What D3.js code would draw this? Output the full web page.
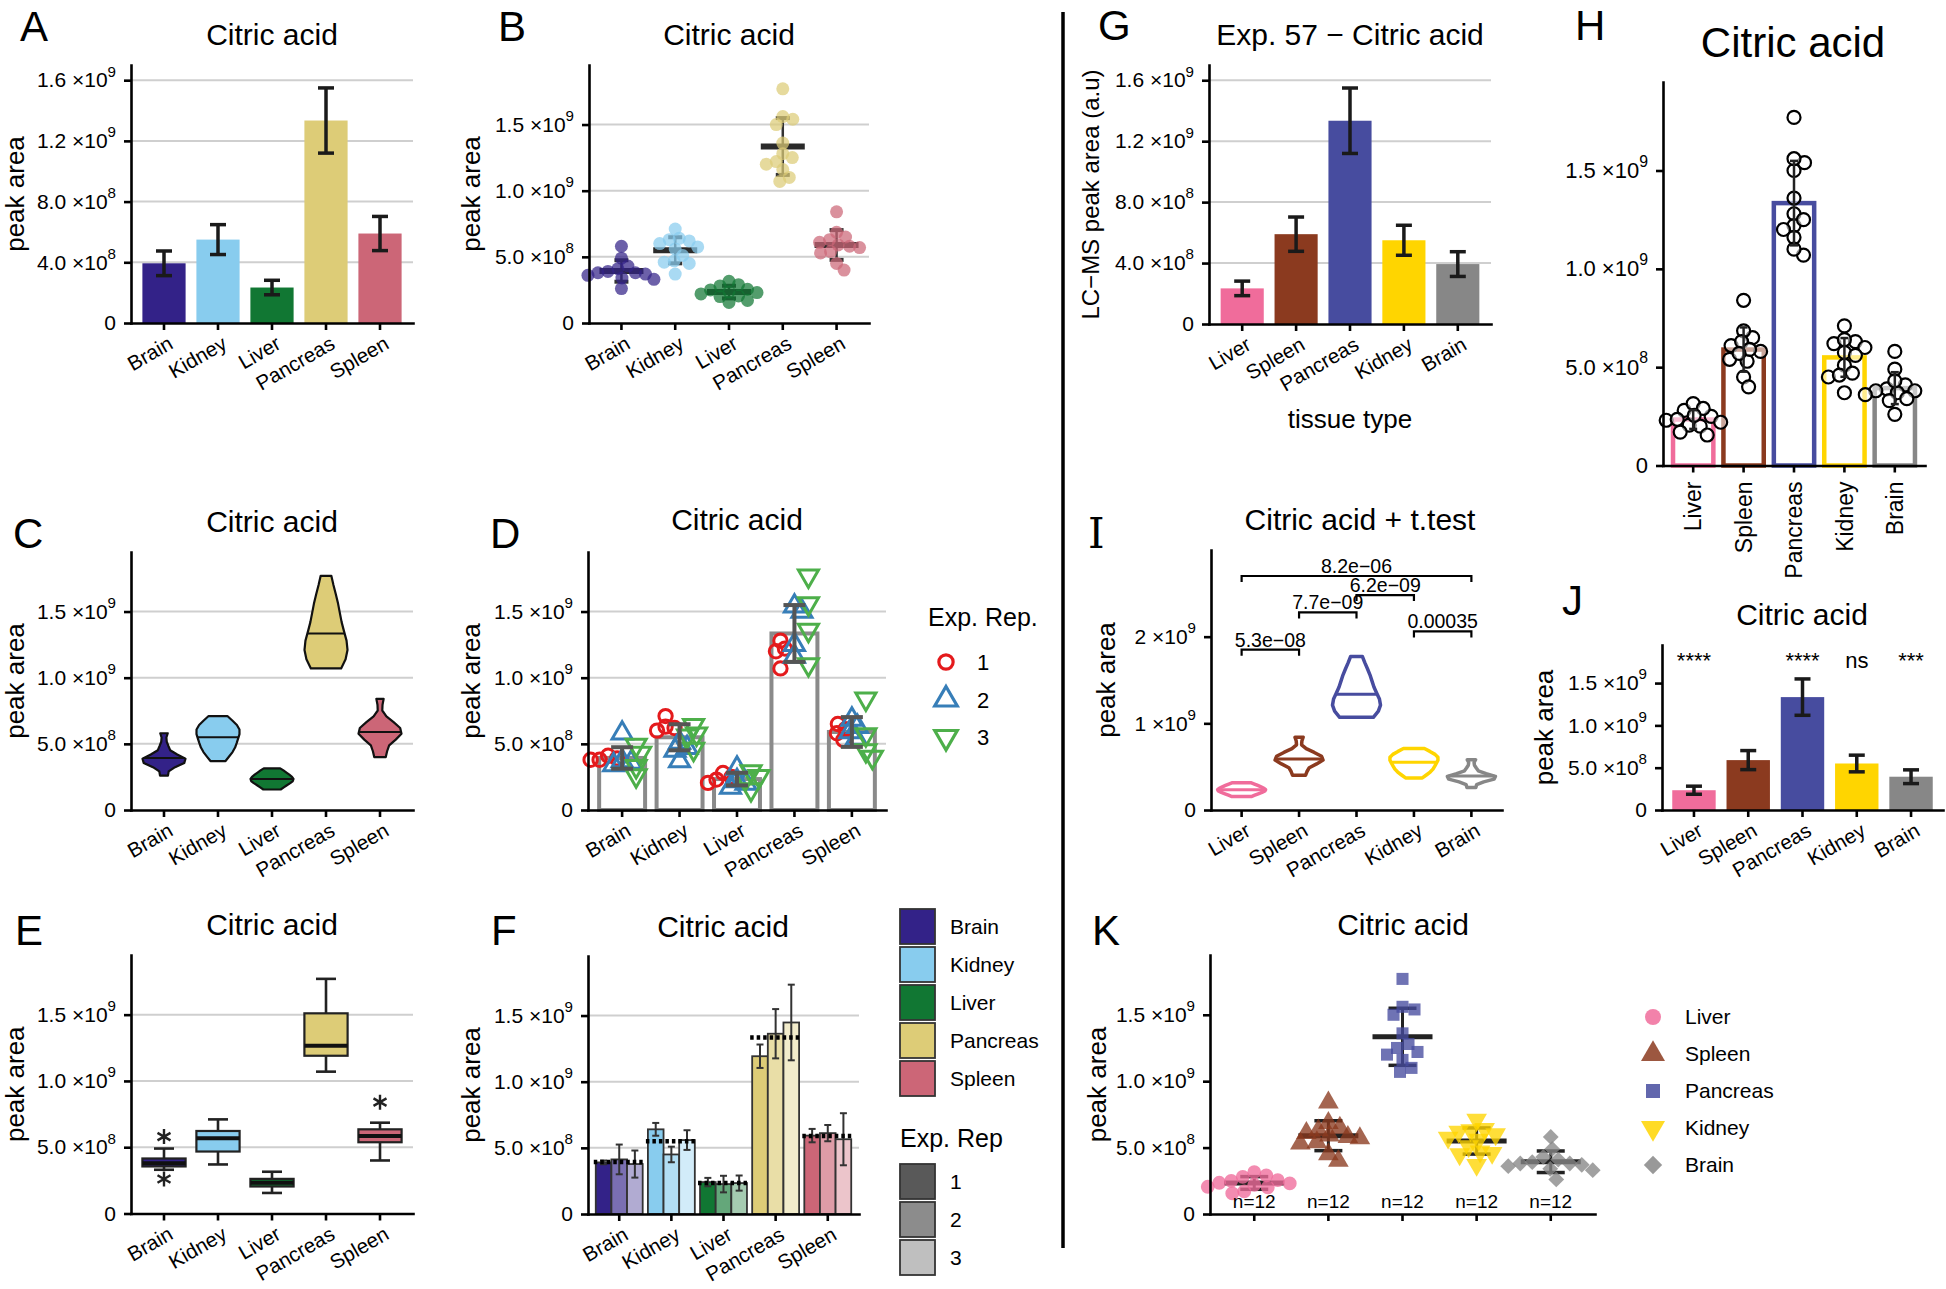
<!DOCTYPE html>
<html><head><meta charset="utf-8">
<script src="https://cdn.jsdelivr.net/npm/d3@7"></script>
<style>
body{margin:0;background:#fff;}
svg{display:block;font-family:"Liberation Sans",Arial,Helvetica,sans-serif;}
</style></head><body>
<svg id="fig" width="1946" height="1289"></svg>
<script>
// ---------------- DATA ----------------
const tissues = ["Brain","Kidney","Liver","Pancreas","Spleen"];
const tissuesAlt = ["Liver","Spleen","Pancreas","Kidney","Brain"];
const replicate = [1,1,1,1, 2,2,2,2, 3,3,3,3];
const brain    = [4.1e8,3.9e8,3.8e8,3.8e8, 5.8e8,3.7e8,3.6e8,3.4e8, 4.9e8,4.3e8,3.3e8,2.6e8];
const kidney   = [7.1e8,6.3e8,6.2e8,6.0e8, 5.1e8,4.7e8,4.5e8,3.7e8, 6.4e8,5.75e8,5.6e8,4.6e8];
const liver    = [2.8e8,2.5e8,2.3e8,2.05e8, 3.15e8,2.2e8,2.0e8,1.7e8, 2.9e8,2.55e8,2.35e8,1.55e8];
const pancreas = [1.28e9,1.22e9,1.20e9,1.07e9, 1.54e9,1.50e9,1.25e9,1.16e9, 1.77e9,1.56e9,1.36e9,1.10e9];
const spleen   = [6.5e8,6.1e8,5.8e8,5.3e8, 6.85e8,6.3e8,5.9e8,5.4e8, 8.4e8,5.7e8,4.5e8,4.0e8];

const mutedColors = ["#332288","#88CCEE","#117733","#DDCC77","#CC6677"];
const altColors   = ["#F06C9B","#8B3A1F","#474C9F","#FFD500","#878787"];
const repColors   = ["#E41A1C","#377EB8","#4DAF4A"];
const repGrays    = ["#595959","#8c8c8c","#bfbfbf"];
const repLabels   = ["1","2","3"];

const ticksA = [0,4e8,8e8,1.2e9,1.6e9];
const ticksABase = ["0","4.0","8.0","1.2","1.6"];
const ticksAExp  = ["","8","8","9","9"];
const ticksB = [0,5e8,1e9,1.5e9];
const ticksBBase = ["0","5.0","1.0","1.5"];
const ticksBExp  = ["","8","9","9"];
const ticksI = [0,1e9,2e9];
const ticksIBase = ["0","1","2"];
const ticksIExp  = ["","9","9"];

const pPairs = [["Liver","Spleen"],["Spleen","Pancreas"],["Pancreas","Kidney"],["Kidney","Brain"],["Liver","Brain"]];
const pValues = ["5.3e\u221208","7.7e\u221209","6.2e\u221209","0.00035","8.2e\u221206"];
const pBracketY = [1.85e9,2.28e9,2.48e9,2.06e9,2.70e9];
const jSigLabels = ["****","","****","ns","***"];

// ---------------- HELPERS ----------------
const vals = {Brain:brain, Kidney:kidney, Liver:liver, Pancreas:pancreas, Spleen:spleen};
const colMuted = Object.fromEntries(tissues.map((t,i)=>[t,mutedColors[i]]));
const colAlt = Object.fromEntries(tissuesAlt.map((t,i)=>[t,altColors[i]]));
const mean = t => d3.mean(vals[t]);
const sd = t => d3.deviation(vals[t]);
const repVals = (t,r) => vals[t].filter((_,i)=>replicate[i]===r);

const svg = d3.select("#fig");
svg.append("rect").attr("width",1946).attr("height",1289).attr("fill","#fff");

function makePanel(c){
  const g = svg.append("g");
  const x = d3.scaleBand().domain(c.cats).range([c.left,c.right]).paddingInner(0).paddingOuter(c.pad);
  const y = d3.scaleLinear().domain([0,c.yMax]).range([c.bottom,c.top]);
  const cx = k => x(k)+x.bandwidth()/2;
  if(c.grid){
    g.append("g").selectAll("line").data(c.ticks.filter(t=>t>0)).join("line")
      .attr("x1",x.range()[0]).attr("x2",x.range()[1])
      .attr("y1",d=>y(d)).attr("y2",d=>y(d))
      .attr("stroke","#cfcfcf").attr("stroke-width",2);
  }
  const marks = g.append("g");
  const ax = g.append("g");
  const yAx = ax.append("g").attr("transform",`translate(${x.range()[0]},0)`)
    .call(d3.axisLeft(y).tickValues(c.ticks).tickSize(7).tickSizeOuter(0).tickPadding(8).tickFormat(""));
  yAx.attr("font-family",null).attr("font-size",c.tickFont||21);
  yAx.selectAll(".tick text").attr("fill","#000").each(function(d,i){
    const t = d3.select(this); t.text(null);
    t.append("tspan").text(c.tickBase[i] + (c.tickExp[i] ? " \u00D710" : ""));
    if(c.tickExp[i]) t.append("tspan").attr("dy","-0.72em").attr("font-size","0.72em").text(c.tickExp[i]);
  });
  ax.append("g").attr("transform",`translate(0,${y(0)})`)
    .call(d3.axisBottom(x).tickSize(7).tickSizeOuter(0).tickFormat(""));
  ax.selectAll("path,line").attr("stroke","#000").attr("stroke-width",2.6);
  ax.selectAll("path.domain").attr("stroke-linecap","square");
  if(c.xlab==="rot30"){
    ax.append("g").selectAll("text").data(c.cats).join("text")
      .attr("transform",d=>`translate(${cx(d)+3},${y(0)+12}) rotate(-30)`)
      .attr("text-anchor","end").attr("dy","0.71em").attr("font-size",c.xFont||20.5).text(d=>d);
  } else if(c.xlab==="rot90"){
    ax.append("g").selectAll("text").data(c.cats).join("text")
      .attr("transform",d=>`translate(${cx(d)},${y(0)+16}) rotate(-90)`)
      .attr("text-anchor","end").attr("dy","0.36em").attr("font-size",c.xFont||23).text(d=>d);
  }
  if(c.ylabel){
    g.append("text").attr("transform",`translate(${c.ylabelX},${(c.top+c.bottom)/2}) rotate(-90)`)
      .attr("text-anchor","middle").attr("dy","0.35em").attr("font-size",c.ylabelSize||26).text(c.ylabel);
  }
  g.append("text").attr("x",c.titleX).attr("y",c.titleY).attr("text-anchor","middle")
    .attr("font-size",c.titleSize||30).text(c.title);
  g.append("text").attr("x",c.letterX).attr("y",c.letterY).attr("font-size",42)
    .attr("font-family",c.letterFont||null).text(c.letter);
  return {g:marks, x, y, cx, step:x.bandwidth()};
}

function errBar(g,x,y0,y1,capW,color,w){
  g.append("line").attr("x1",x).attr("x2",x).attr("y1",y0).attr("y2",y1).attr("stroke",color).attr("stroke-width",w);
  [y0,y1].forEach(yy=>g.append("line").attr("x1",x-capW/2).attr("x2",x+capW/2).attr("y1",yy).attr("y2",yy)
    .attr("stroke",color).attr("stroke-width",w));
}

function swarm(v,y,minDist){
  const idx = d3.range(v.length).sort((a,b)=>d3.descending(v[a],v[b]));
  const placed=[], off=new Array(v.length);
  for(const i of idx){
    const py=y(v[i]); let k=0, dx=null;
    while(dx===null){
      const cands = k===0?[0]:[k*0.5,-k*0.5];
      for(const c of cands){
        if(placed.every(p=>(p.x-c)**2+(p.y-py)**2>=minDist*minDist)){dx=c;break;}
      }
      k++;
    }
    placed.push({x:dx,y:py}); off[i]=dx;
  }
  return off;
}

function violin(P,t,halfW,n){
  const v=vals[t];
  const s=d3.deviation(v), iqr=d3.quantile(v,0.75)-d3.quantile(v,0.25);
  const bw=1.15*0.9*Math.min(s,iqr/1.34)*Math.pow(v.length,-0.2);
  const lo=d3.min(v), hi=d3.max(v);
  const dens = yv => d3.mean(v,xi=>Math.exp(-0.5*((yv-xi)/bw)**2));
  const ys=d3.range(n+1).map(i=>lo+(hi-lo)*i/n);
  const ds=ys.map(dens); const mx=d3.max(ds);
  const pts=ys.map((yv,i)=>({y:yv,w:ds[i]/mx*halfW}));
  const area=d3.area().y(d=>P.y(d.y)).x0(d=>P.cx(t)-d.w).x1(d=>P.cx(t)+d.w);
  const m=d3.mean(v), wm=dens(m)/mx*halfW;
  return {d:area(pts), m, wm};
}

function asterisk(g,x,y,r){
  const p=d3.path();
  for(let k=0;k<3;k++){const a=Math.PI/2+k*Math.PI/3;
    p.moveTo(x+r*Math.cos(a),y+r*Math.sin(a)); p.lineTo(x-r*Math.cos(a),y-r*Math.sin(a));}
  g.append("path").attr("d",p.toString()).attr("stroke","#222").attr("stroke-width",2.4).attr("fill","none");
}

// ---------------- PANEL A ----------------
{
  const P = makePanel({cats:tissues,left:131,right:413,top:65,bottom:323,yMax:1.7e9,pad:0.111,
    ticks:ticksA,tickBase:ticksABase,tickExp:ticksAExp,grid:true,xlab:"rot30",
    ylabel:"peak area",ylabelX:15,title:"Citric acid",titleX:272,titleY:45,letter:"A",letterX:20,letterY:41});
  const w=P.step*0.8;
  P.g.selectAll("rect").data(tissues).join("rect").attr("x",d=>P.cx(d)-w/2).attr("width",w)
    .attr("y",d=>P.y(mean(d))).attr("height",d=>P.y(0)-P.y(mean(d))).attr("fill",d=>colMuted[d]);
  tissues.forEach(d=>errBar(P.g,P.cx(d),P.y(mean(d)-sd(d)),P.y(mean(d)+sd(d)),16,"#1a1a1a",3.5));
}
// ---------------- PANEL B ----------------
{
  const P = makePanel({cats:tissues,left:589,right:869,top:65,bottom:323,yMax:1.95e9,pad:0.103,
    ticks:ticksB,tickBase:ticksBBase,tickExp:ticksBExp,grid:true,xlab:"rot30",
    ylabel:"peak area",ylabelX:471,title:"Citric acid",titleX:729,titleY:45,letter:"B",letterX:498,letterY:41});
  tissues.forEach(t=>{
    const c=P.cx(t), m=mean(t), s=sd(t);
    P.g.append("line").attr("x1",c).attr("x2",c).attr("y1",P.y(m-s)).attr("y2",P.y(m+s)).attr("stroke","#333").attr("stroke-width",2.5);
    [m-s,m+s].forEach(v=>P.g.append("line").attr("x1",c-7).attr("x2",c+7).attr("y1",P.y(v)).attr("y2",P.y(v)).attr("stroke","#333").attr("stroke-width",4));
    P.g.append("line").attr("x1",c-22).attr("x2",c+22).attr("y1",P.y(m)).attr("y2",P.y(m)).attr("stroke","#2a2a2a").attr("stroke-width",6);
    const off=swarm(vals[t],P.y,10);
    P.g.append("g").selectAll("circle").data(vals[t]).join("circle")
      .attr("cx",(d,i)=>c+off[i]).attr("cy",d=>P.y(d)).attr("r",6.5)
      .attr("fill",colMuted[t]).attr("fill-opacity",0.72);
  });
}
// ---------------- PANEL C ----------------
{
  const P = makePanel({cats:tissues,left:131,right:413,top:552,bottom:810,yMax:1.95e9,pad:0.111,
    ticks:ticksB,tickBase:ticksBBase,tickExp:ticksBExp,grid:true,xlab:"rot30",
    ylabel:"peak area",ylabelX:15,title:"Citric acid",titleX:272,titleY:532,letter:"C",letterX:13,letterY:548});
  tissues.forEach(t=>{
    const V=violin(P,t,21.5,10);
    P.g.append("path").attr("d",V.d).attr("fill",colMuted[t]).attr("stroke","#111").attr("stroke-width",2.2).attr("stroke-linejoin","round");
    P.g.append("line").attr("x1",P.cx(t)-V.wm).attr("x2",P.cx(t)+V.wm).attr("y1",P.y(V.m)).attr("y2",P.y(V.m)).attr("stroke","#111").attr("stroke-width",2);
  });
}
// ---------------- PANEL D ----------------
{
  const P = makePanel({cats:tissues,left:588,right:886,top:552,bottom:810,yMax:1.95e9,pad:0.094,
    ticks:ticksB,tickBase:ticksBBase,tickExp:ticksBExp,grid:true,xlab:"rot30",
    ylabel:"peak area",ylabelX:471,title:"Citric acid",titleX:737,titleY:530,letter:"D",letterX:490,letterY:548});
  const w=P.step*0.8;
  P.g.selectAll("rect").data(tissues).join("rect").attr("x",d=>P.cx(d)-w/2).attr("width",w)
    .attr("y",d=>P.y(mean(d))).attr("height",d=>P.y(0)-P.y(mean(d)))
    .attr("fill","none").attr("stroke","#8a8a8a").attr("stroke-width",4);
  const sym=[d3.symbol().type(d3.symbolCircle).size(140),d3.symbol().type(d3.symbolTriangle).size(175),d3.symbol().type(d3.symbolTriangle).size(175)];
  tissues.forEach(t=>{
    [1,2,3].forEach(r=>{
      const rv=repVals(t,r); const off=swarm(rv,P.y,9);
      P.g.append("g").selectAll("path").data(rv).join("path")
        .attr("d",sym[r-1]())
        .attr("transform",(d,i)=>`translate(${P.cx(t)+(r-2)*14+off[i]},${P.y(d)})${r===3?" rotate(180)":""}`)
        .attr("fill","none").attr("stroke",repColors[r-1]).attr("stroke-width",3);
    });
  });
  tissues.forEach(d=>errBar(P.g,P.cx(d),P.y(mean(d)-sd(d)),P.y(mean(d)+sd(d)),22,"#555",4));
  const L=svg.append("g");
  L.append("text").attr("x",928).attr("y",626).attr("font-size",25).text("Exp. Rep.");
  [1,2,3].forEach((r,i)=>{
    const yy=662+i*37.5;
    L.append("path").attr("d",d3.symbol().type(r===1?d3.symbolCircle:d3.symbolTriangle).size(r===1?160:220)())
      .attr("transform",`translate(946,${yy})${r===3?" rotate(180)":""}`)
      .attr("fill","none").attr("stroke",repColors[i]).attr("stroke-width",3.2);
    L.append("text").attr("x",977).attr("y",yy+8).attr("font-size",22).text(repLabels[i]);
  });
}
// ---------------- PANEL E ----------------
{
  const P = makePanel({cats:tissues,left:131,right:413,top:955,bottom:1213.5,yMax:1.95e9,pad:0.111,
    ticks:ticksB,tickBase:ticksBBase,tickExp:ticksBExp,grid:true,xlab:"rot30",
    ylabel:"peak area",ylabelX:15,title:"Citric acid",titleX:272,titleY:935,letter:"E",letterX:15,letterY:945});
  const w=P.step*0.8;
  tissues.forEach(t=>{
    const v=vals[t], c=P.cx(t);
    const q1=d3.quantile(v,0.25), q2=d3.quantile(v,0.5), q3=d3.quantile(v,0.75), iqr=q3-q1;
    const inside=v.filter(a=>a>=q1-1.5*iqr && a<=q3+1.5*iqr);
    const lo=d3.min(inside), hi=d3.max(inside);
    const outl=v.filter(a=>a<q1-1.5*iqr||a>q3+1.5*iqr);
    errBar(P.g,c,P.y(lo),P.y(hi),20,"#222",2.6);
    P.g.append("rect").attr("x",c-w/2).attr("width",w).attr("y",P.y(q3)).attr("height",P.y(q1)-P.y(q3))
      .attr("fill",colMuted[t]).attr("stroke","#222").attr("stroke-width",2.2);
    P.g.append("line").attr("x1",c-w/2).attr("x2",c+w/2).attr("y1",P.y(q2)).attr("y2",P.y(q2)).attr("stroke","#111").attr("stroke-width",4);
    outl.forEach(o=>asterisk(P.g,c,P.y(o),7.5));
  });
}
// ---------------- PANEL F ----------------
{
  const P = makePanel({cats:tissues,left:588,right:859,top:956,bottom:1214,yMax:1.95e9,pad:0.099,
    ticks:ticksB,tickBase:ticksBBase,tickExp:ticksBExp,grid:true,xlab:"rot30",
    ylabel:"peak area",ylabelX:471,title:"Citric acid",titleX:723,titleY:937,letter:"F",letterX:491,letterY:945});
  const gw=P.step*0.9, sub=gw/3;
  const shade=(c,r)=>d3.interpolateRgb(c,"#ffffff")([0,0.35,0.62][r-1]);
  tissues.forEach(t=>{
    [1,2,3].forEach(r=>{
      const rv=repVals(t,r), m=d3.mean(rv);
      P.g.append("rect").attr("x",P.cx(t)-gw/2+(r-1)*sub).attr("width",sub)
        .attr("y",P.y(m)).attr("height",P.y(0)-P.y(m))
        .attr("fill",shade(colMuted[t],r)).attr("stroke","#333").attr("stroke-width",1.8);
    });
  });
  tissues.forEach(t=>{
    [1,2,3].forEach(r=>{
      const rv=repVals(t,r), m=d3.mean(rv), s=d3.deviation(rv);
      errBar(P.g,P.cx(t)-gw/2+(r-0.5)*sub,P.y(m-s),P.y(m+s),7,"#333",2);
    });
    P.g.append("line").attr("x1",P.cx(t)-gw/2-2).attr("x2",P.cx(t)+gw/2).attr("y1",P.y(mean(t))).attr("y2",P.y(mean(t)))
      .attr("stroke","#000").attr("stroke-width",4.5).attr("stroke-dasharray","3.5,3");
  });
  const L=svg.append("g");
  tissues.forEach((t,i)=>{
    L.append("rect").attr("x",900).attr("y",909+i*38).attr("width",35).attr("height",35)
      .attr("fill",colMuted[t]).attr("stroke","#333").attr("stroke-width",1.8);
    L.append("text").attr("x",950).attr("y",909+i*38+25).attr("font-size",21).text(t);
  });
  L.append("text").attr("x",900).attr("y",1147).attr("font-size",25).text("Exp. Rep");
  repGrays.forEach((c,i)=>{
    L.append("rect").attr("x",900).attr("y",1164+i*38).attr("width",35).attr("height",35)
      .attr("fill",c).attr("stroke","#333").attr("stroke-width",1.8);
    L.append("text").attr("x",950).attr("y",1164+i*38+25).attr("font-size",21).text(repLabels[i]);
  });
}
// ---------------- PANEL G ----------------
{
  const P = makePanel({cats:tissuesAlt,left:1209,right:1491,top:65,bottom:324,yMax:1.7e9,pad:0.116,
    ticks:ticksA,tickBase:ticksABase,tickExp:ticksAExp,grid:true,xlab:"rot30",
    ylabel:"LC\u2212MS peak area (a.u)",ylabelSize:24,ylabelX:1091,title:"Exp. 57 \u2212 Citric acid",titleX:1350,titleY:45,letter:"G",letterX:1098,letterY:40});
  const w=P.step*0.8;
  P.g.selectAll("rect").data(tissuesAlt).join("rect").attr("x",d=>P.cx(d)-w/2).attr("width",w)
    .attr("y",d=>P.y(mean(d))).attr("height",d=>P.y(0)-P.y(mean(d))).attr("fill",d=>colAlt[d]);
  tissuesAlt.forEach(d=>errBar(P.g,P.cx(d),P.y(mean(d)-sd(d)),P.y(mean(d)+sd(d)),16,"#1a1a1a",3.5));
  svg.append("text").attr("x",1350).attr("y",428).attr("text-anchor","middle").attr("font-size",26).text("tissue type");
}
// ---------------- PANEL H ----------------
{
  const P = makePanel({cats:tissuesAlt,left:1663,right:1925,top:82,bottom:465.5,yMax:1.95e9,pad:0.099,
    ticks:ticksB,tickBase:ticksBBase,tickExp:ticksBExp,grid:false,xlab:"rot90",tickFont:22,xFont:23,
    title:"Citric acid",titleSize:42,titleX:1793,titleY:57,letter:"H",letterX:1575,letterY:40});
  const w=P.step*0.8;
  P.g.selectAll("rect").data(tissuesAlt).join("rect").attr("x",d=>P.cx(d)-w/2).attr("width",w)
    .attr("y",d=>P.y(mean(d))).attr("height",d=>P.y(0)-P.y(mean(d)))
    .attr("fill","#fff").attr("stroke",d=>colAlt[d]).attr("stroke-width",4.5);
  tissuesAlt.forEach(t=>{
    const off=swarm(vals[t],P.y,11);
    P.g.append("g").selectAll("circle").data(vals[t]).join("circle")
      .attr("cx",(d,i)=>P.cx(t)+off[i]).attr("cy",d=>P.y(d)).attr("r",6.5)
      .attr("fill","#fff").attr("fill-opacity",0.55).attr("stroke","#000").attr("stroke-width",2.2);
  });
  tissuesAlt.forEach(d=>errBar(P.g,P.cx(d),P.y(mean(d)-sd(d)),P.y(mean(d)+sd(d)),8,"#222",2.5));
}
// ---------------- PANEL I ----------------
{
  const P = makePanel({cats:tissuesAlt,left:1211,right:1502,top:550,bottom:810,yMax:3e9,pad:0.033,
    ticks:ticksI,tickBase:ticksIBase,tickExp:ticksIExp,grid:false,xlab:"rot30",
    ylabel:"peak area",ylabelX:1106,title:"Citric acid + t.test",titleX:1360,titleY:530,
    letter:"I",letterX:1088,letterY:548,letterFont:"'DejaVu Serif',serif"});
  tissuesAlt.forEach(t=>{
    const V=violin(P,t,24,10);
    P.g.append("path").attr("d",V.d).attr("fill","#fff").attr("stroke",colAlt[t]).attr("stroke-width",3.5).attr("stroke-linejoin","round");
    P.g.append("line").attr("x1",P.cx(t)-V.wm).attr("x2",P.cx(t)+V.wm).attr("y1",P.y(V.m)).attr("y2",P.y(V.m)).attr("stroke",colAlt[t]).attr("stroke-width",3);
  });
  pPairs.forEach((pr,i)=>{
    const x1=P.cx(pr[0]), x2=P.cx(pr[1]), yy=P.y(pBracketY[i]);
    P.g.append("path").attr("d",`M${x1},${yy+6}V${yy}H${x2}V${yy+6}`).attr("fill","none").attr("stroke","#000").attr("stroke-width",2.2);
    P.g.append("text").attr("x",(x1+x2)/2).attr("y",yy-3).attr("text-anchor","middle").attr("font-size",19.5).text(pValues[i]);
  });
}
// ---------------- PANEL J ----------------
{
  const P = makePanel({cats:tissuesAlt,left:1662,right:1943,top:645,bottom:810,yMax:1.95e9,pad:0.089,
    ticks:ticksB,tickBase:ticksBBase,tickExp:ticksBExp,grid:false,xlab:"rot30",
    ylabel:"peak area",ylabelX:1544,title:"Citric acid",titleX:1802,titleY:625,letter:"J",letterX:1562,letterY:615});
  const w=P.step*0.8;
  P.g.selectAll("rect").data(tissuesAlt).join("rect").attr("x",d=>P.cx(d)-w/2).attr("width",w)
    .attr("y",d=>P.y(mean(d))).attr("height",d=>P.y(0)-P.y(mean(d))).attr("fill",d=>colAlt[d]);
  tissuesAlt.forEach(d=>errBar(P.g,P.cx(d),P.y(mean(d)-sd(d)),P.y(mean(d)+sd(d)),16,"#1a1a1a",3.5));
  P.g.selectAll("text.sig").data(tissuesAlt).join("text").attr("class","sig")
    .attr("x",d=>P.cx(d)).attr("y",668).attr("text-anchor","middle").attr("font-size",22).text((d,i)=>jSigLabels[i]);
}
// ---------------- PANEL K ----------------
{
  const P = makePanel({cats:tissuesAlt,left:1210,right:1595,top:955,bottom:1214,yMax:1.95e9,pad:0.097,
    ticks:ticksB,tickBase:ticksBBase,tickExp:ticksBExp,grid:false,xlab:"none",
    ylabel:"peak area",ylabelX:1097,title:"Citric acid",titleX:1403,titleY:935,letter:"K",letterX:1092,letterY:945});
  const shapes={Liver:[d3.symbolCircle,150,0],Spleen:[d3.symbolTriangle,185,0],Pancreas:[d3.symbolSquare,145,0],Kidney:[d3.symbolTriangle,185,180],Brain:[d3.symbolSquare,125,45]};
  tissuesAlt.forEach(t=>{
    const c=P.cx(t), m=mean(t), s=sd(t);
    P.g.append("line").attr("x1",c).attr("x2",c).attr("y1",P.y(m-s)).attr("y2",P.y(m+s)).attr("stroke","#222").attr("stroke-width",3);
    [m-s,m+s].forEach(v=>P.g.append("line").attr("x1",c-14).attr("x2",c+14).attr("y1",P.y(v)).attr("y2",P.y(v)).attr("stroke","#222").attr("stroke-width",3.5));
    P.g.append("line").attr("x1",c-30).attr("x2",c+30).attr("y1",P.y(m)).attr("y2",P.y(m)).attr("stroke","#222").attr("stroke-width",5);
    const off=swarm(vals[t],P.y,12);
    const [ty,sz,rot]=shapes[t];
    P.g.append("g").selectAll("path").data(vals[t]).join("path")
      .attr("d",d3.symbol().type(ty).size(sz)())
      .attr("transform",(d,i)=>`translate(${c+off[i]},${P.y(d)}) rotate(${rot})`)
      .attr("fill",colAlt[t]).attr("fill-opacity",0.78);
    P.g.append("text").attr("x",c).attr("y",P.y(0)-6).attr("text-anchor","middle").attr("font-size",19).text("n="+vals[t].length);
  });
  const L=svg.append("g");
  tissuesAlt.forEach((t,i)=>{
    const yy=1017+i*37;
    const [ty,sz,rot]=shapes[t];
    L.append("path").attr("d",d3.symbol().type(ty).size(sz*1.35)()).attr("transform",`translate(1653,${yy}) rotate(${rot})`)
      .attr("fill",colAlt[t]).attr("fill-opacity",0.85);
    L.append("text").attr("x",1685).attr("y",yy+7).attr("font-size",21).text(t);
  });
}
// divider
svg.append("line").attr("x1",1063).attr("x2",1063).attr("y1",12).attr("y2",1248).attr("stroke","#000").attr("stroke-width",3.5);
</script>
</body></html>
